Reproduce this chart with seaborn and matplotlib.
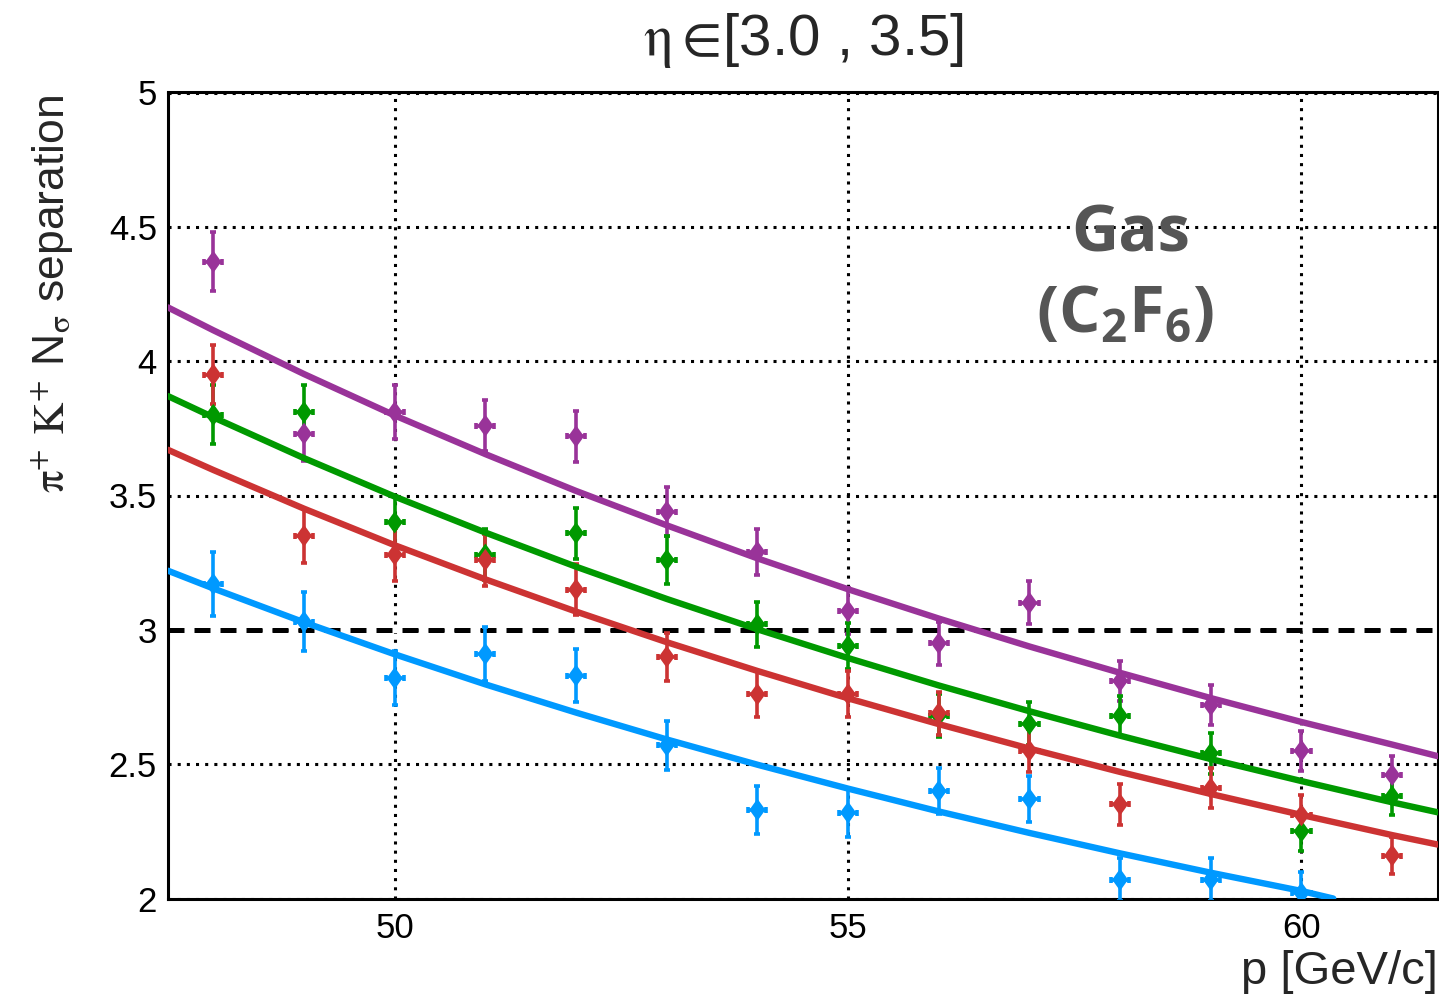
import numpy as np
import pandas as pd
import matplotlib
matplotlib.use("Agg")
import matplotlib.pyplot as plt
from matplotlib.path import Path
from matplotlib.ticker import MultipleLocator, FixedLocator, FuncFormatter
import seaborn as sns

# ---------------- data ----------------
p = [48, 49, 50, 51, 52, 53, 54, 55, 56, 57, 58, 59, 60, 61]
p_blue = [48, 49, 50, 51, 52, 53, 54, 55, 56, 57, 58, 59, 60]

sep_purple = [4.37, 3.73, 3.81, 3.76, 3.72, 3.44, 3.29, 3.07, 2.95, 3.10, 2.81, 2.72, 2.55, 2.46]
sep_green = [3.80, 3.81, 3.40, 3.28, 3.36, 3.26, 3.02, 2.94, 2.68, 2.65, 2.68, 2.54, 2.25, 2.38]
sep_red = [3.95, 3.35, 3.28, 3.26, 3.15, 2.90, 2.76, 2.76, 2.69, 2.55, 2.35, 2.41, 2.31, 2.16]
sep_blue = [3.17, 3.03, 2.82, 2.91, 2.83, 2.57, 2.33, 2.32, 2.40, 2.37, 2.07, 2.07, 2.02]

err_purple = [0.11, 0.10, 0.10, 0.095, 0.095, 0.09, 0.085, 0.085, 0.08, 0.08, 0.075, 0.075, 0.075, 0.07]
err_green = [0.11, 0.10, 0.10, 0.095, 0.095, 0.09, 0.085, 0.085, 0.08, 0.08, 0.075, 0.075, 0.075, 0.07]
err_red = [0.11, 0.10, 0.10, 0.095, 0.095, 0.09, 0.085, 0.085, 0.08, 0.08, 0.075, 0.075, 0.075, 0.07]
err_blue = [0.12, 0.11, 0.10, 0.10, 0.10, 0.09, 0.09, 0.09, 0.085, 0.085, 0.08, 0.08, 0.08]
p_err = [0.1, 0.1, 0.1, 0.1, 0.1, 0.1, 0.1, 0.1, 0.1, 0.1, 0.1, 0.1, 0.1, 0.1]
p_err_blue = [0.1, 0.1, 0.1, 0.1, 0.1, 0.1, 0.1, 0.1, 0.1, 0.1, 0.1, 0.1, 0.1]

fit_p = [47.5, 48, 49, 50, 51, 52, 53, 54, 55, 56, 57, 58, 59, 60, 61, 61.5]
fit_purple = [4.20, 4.115, 3.952, 3.798, 3.654, 3.517, 3.389, 3.266, 3.151, 3.042,
              2.938, 2.840, 2.746, 2.657, 2.573, 2.53]
fit_green = [3.87, 3.791, 3.639, 3.496, 3.362, 3.235, 3.115, 3.002, 2.895, 2.793,
             2.697, 2.606, 2.519, 2.437, 2.358, 2.321]
fit_red = [3.67, 3.595, 3.451, 3.315, 3.188, 3.068, 2.954, 2.847, 2.745, 2.649,
           2.558, 2.471, 2.389, 2.311, 2.236, 2.201]
fit_p_blue = [47.5, 48, 49, 50, 51, 52, 53, 54, 55, 56, 57, 58, 59, 60, 60.35]
fit_blue = [3.22, 3.154, 3.028, 2.909, 2.797, 2.692, 2.592, 2.498, 2.409, 2.324,
            2.244, 2.168, 2.096, 2.028, 2.0]

threshold = 3.0
title_text = r"$\mathrm{\eta}\in\!$[3.0 , 3.5]"
ylabel_text = r"$\mathrm{\pi}^{+}$ $\mathrm{K}^{+}$ N$_{\mathrm{\sigma}}$ separation"
xlabel_text = "p [GeV/c]"

COL_PURPLE = "#993399"
COL_GREEN = "#009900"
COL_RED = "#cc3333"
COL_BLUE = "#0099ff"

# ---------------- style ----------------
sns.set_theme(style="white")
plt.rcParams["font.family"] = ["Liberation Sans", "DejaVu Sans"]
plt.rcParams["mathtext.fontset"] = "custom"
plt.rcParams["mathtext.rm"] = "Open Sans:bold"
plt.rcParams["mathtext.it"] = "Open Sans:bold"
plt.rcParams["mathtext.bf"] = "Open Sans:bold"

fig = plt.figure(figsize=(14.39, 10.0), dpi=100)
ax = fig.add_axes([168 / 1439, 1 - 898.5 / 1000, 1269.5 / 1439, 806 / 1000])

diamond = Path([(0, 1), (0.72, 0), (0, -1), (-0.72, 0), (0, 1)], closed=True)

series = [
    (p, sep_purple, err_purple, p_err, COL_PURPLE),
    (p, sep_green, err_green, p_err, COL_GREEN),
    (p, sep_red, err_red, p_err, COL_RED),
    (p_blue, sep_blue, err_blue, p_err_blue, COL_BLUE),
]
for xs, ys, ye, xe, c in series:
    ax.errorbar(xs, ys, yerr=ye, xerr=xe, fmt="none", ecolor=c,
                elinewidth=2.6, capsize=2.0, capthick=2.6, zorder=3)
    df = pd.DataFrame({"p": xs, "sep": ys})
    sns.scatterplot(data=df, x="p", y="sep", color=c, marker=diamond, s=16.0 ** 2,
                    linewidth=0, edgecolor="none", ax=ax, zorder=4, legend=False)

ax.axhline(threshold, color="black", lw=3.6, dashes=(3.2, 2.0), gapcolor="white",
           zorder=2.5)

fits = [
    (fit_p, fit_purple, COL_PURPLE),
    (fit_p, fit_green, COL_GREEN),
    (fit_p, fit_red, COL_RED),
    (fit_p_blue, fit_blue, COL_BLUE),
]
for fx, fy, c in fits:
    sns.lineplot(x=fx, y=fy, color=c, lw=4.6, sort=False, estimator=None,
                 ax=ax, zorder=5, legend=False)

# ---------------- axes ----------------
ax.set_xlim(47.5, 61.5)
ax.set_ylim(2, 5)
ax.xaxis.set_major_locator(FixedLocator([50, 55, 60]))
ax.xaxis.set_minor_locator(MultipleLocator(1))
ax.yaxis.set_major_locator(MultipleLocator(0.5))
ax.yaxis.set_minor_locator(MultipleLocator(0.1))
ax.yaxis.set_major_formatter(FuncFormatter(lambda v, pos: "%g" % v))
ax.xaxis.set_major_formatter(FuncFormatter(lambda v, pos: "%g" % v))

ax.tick_params(axis="both", which="both", direction="in", top=False, right=False,
               width=2.2, color="black", labelcolor="black", labelsize=25)
ax.tick_params(axis="x", which="major", length=16, pad=10)
ax.tick_params(axis="x", which="minor", length=8)
ax.tick_params(axis="y", which="major", length=26, pad=8)
ax.tick_params(axis="y", which="minor", length=13)

for s in ax.spines.values():
    s.set_visible(True)
    s.set_color("black")
    s.set_linewidth(2.2)

ax.grid(True, which="major", color="black", linestyle=(0, (1, 2)), linewidth=2.2)
ax.set_axisbelow(True)

ax.set_xlabel(xlabel_text, fontsize=34, loc="right")
ax.xaxis.label.set_va("baseline")
ax.xaxis.set_label_coords(1.0, (898 - 983) / 805)

ax.set_ylabel(ylabel_text, fontsize=32, loc="top", math_fontfamily="stix")
ax.yaxis.label.set_va("baseline")
ax.yaxis.set_label_coords((65 - 168) / 1269, 0.998)

fig.text(804 / 1439, 1 - 55 / 1000, title_text, ha="center", va="baseline",
         fontsize=42, math_fontfamily="stix")

ax.text((1130 - 168) / 1269, (898 - 252) / 805, "Gas", transform=ax.transAxes,
        ha="center", va="baseline", fontsize=47, fontweight="bold",
        family="Open Sans", color="#555555", zorder=6)
ax.text((1125 - 168) / 1269, (898 - 332) / 805, r"(C$_{\mathrm{2}}$F$_{\mathrm{6}}$)",
        transform=ax.transAxes, ha="center", va="baseline", fontsize=47,
        fontweight="bold", family="Open Sans", color="#555555",
        math_fontfamily="custom", zorder=6)

fig.savefig("out.png", dpi=100, facecolor="white")
